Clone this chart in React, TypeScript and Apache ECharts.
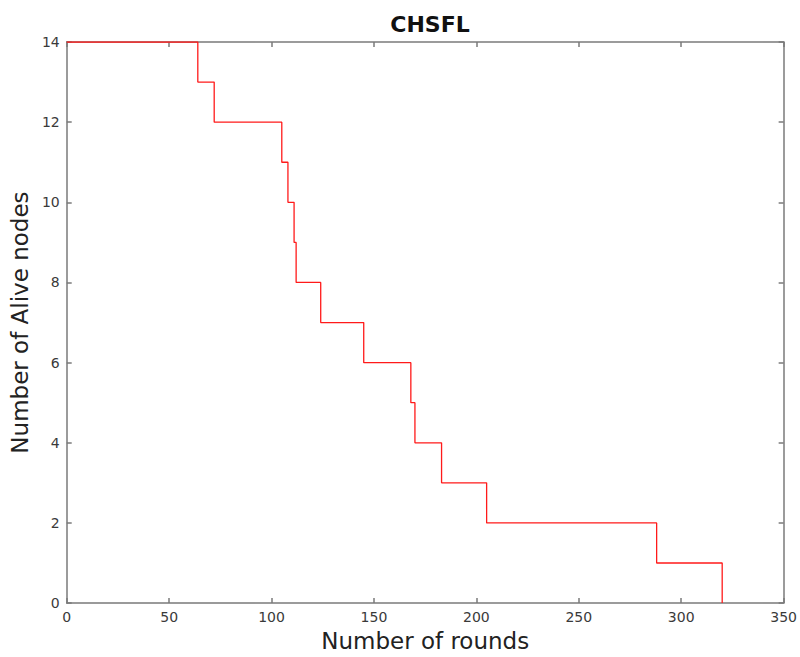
import React, { useEffect, useRef } from "react";
import * as echarts from "echarts";

const TITLE = "CHSFL";
const X_NAME = "Number of rounds";
const Y_NAME = "Number of Alive nodes";
// rounds at which the count of alive nodes changes
const rounds = [0, 64, 72, 105, 108, 111, 112, 124, 145, 168, 170, 183, 205, 288, 320];
const alive = [14, 13, 12, 11, 10, 9, 8, 7, 6, 5, 4, 3, 2, 1, 0];
const X_MIN = 0, X_MAX = 350, X_STEP = 50;
const Y_MIN = 0, Y_MAX = 14, Y_STEP = 2;

export default function App() {
  const ref = useRef<HTMLDivElement>(null);
  useEffect(() => {
    document.body.style.margin = "0";
    const chart = echarts.init(ref.current!, null, { renderer: "svg" });
    const font = "DejaVu Sans";
    const axisColor = "#7a7a7a";
    const labelColor = "#3a3a3a";
    const common = {
      axisLine: { show: true, onZero: false, lineStyle: { color: axisColor, width: 1.5 } },
      axisTick: { show: true, inside: true, length: 5, lineStyle: { color: axisColor, width: 1.5 } },
      splitLine: { show: false },
    };
    const data = rounds.map((r, i) => [r, alive[i]]);
    chart.setOption({
      animation: false,
      backgroundColor: "#ffffff",
      title: {
        text: TITLE,
        left: 425,
        textAlign: "center",
        top: 8,
        textStyle: { fontFamily: font, fontWeight: "bold", fontSize: 22, color: "#111" },
      },
      grid: { left: 63, right: 16, top: 42, bottom: 46, containLabel: false },
      xAxis: [
        {
          type: "value",
          min: X_MIN,
          max: X_MAX,
          interval: X_STEP,
          name: X_NAME,
          nameLocation: "middle",
          nameGap: 22,
          nameTextStyle: { fontFamily: font, fontSize: 23, color: "#222" },
          axisLabel: { margin: 7, fontFamily: font, fontSize: 14, color: labelColor },
          ...common,
        },
        {
          type: "value",
          position: "top",
          min: X_MIN,
          max: X_MAX,
          interval: X_STEP,
          axisLabel: { show: false },
          ...common,
        },
      ],
      yAxis: [
        {
          type: "value",
          min: Y_MIN,
          max: Y_MAX,
          interval: Y_STEP,
          name: Y_NAME,
          nameLocation: "middle",
          nameGap: 30,
          nameTextStyle: { fontFamily: font, fontSize: 23, color: "#222" },
          axisLabel: { margin: 7, fontFamily: font, fontSize: 14, color: labelColor },
          ...common,
        },
        {
          type: "value",
          position: "right",
          min: Y_MIN,
          max: Y_MAX,
          interval: Y_STEP,
          axisLabel: { show: false },
          ...common,
        },
      ],
      series: [
        {
          type: "line",
          step: "end",
          data,
          showSymbol: false,
          symbol: "none",
          lineStyle: { color: "#ff1a1a", width: 1.3 },
          xAxisIndex: 0,
          yAxisIndex: 0,
          z: 1,
        },
      ],
    });
    return () => chart.dispose();
  }, []);
  return <div ref={ref} style={{ width: 800, height: 657 }} />;
}
